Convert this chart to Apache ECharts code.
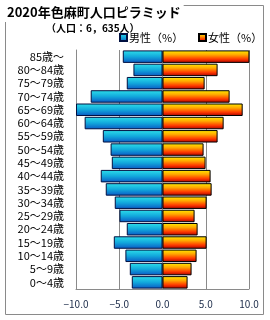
<!DOCTYPE html>
<html><head><meta charset="utf-8">
<script src="https://cdn.jsdelivr.net/npm/echarts@6/dist/echarts.min.js"></script>
<style>html,body{margin:0;padding:0;background:#fff}#c{width:270px;height:320px}</style>
</head><body><div id="c"></div>
<script>
const categories = ["0～4歳","5～9歳","10～14歳","15～19歳","20～24歳","25～29歳","30～34歳","35～39歳","40～44歳","45～49歳","50～54歳","55～59歳","60～64歳","65～69歳","70～74歳","75～79歳","80～84歳","85歳～"];
const maleValues = [3.55,3.78,4.29,5.63,4.13,4.98,5.52,6.56,7.14,5.86,6.0,6.9,9.0,10.0,8.3,4.13,3.36,4.59];
const femaleValues = [2.9,3.36,3.94,5.1,4.06,3.71,5.1,5.68,5.56,4.98,4.75,6.37,7.07,9.27,7.76,4.87,6.37,10.05];
const titleText = "2020年色麻町人口ピラミッド";
const subtitleText = "（人口：6，635人）";
const seriesNames = ["男性（%）","女性（%）"];

const FONT = '"Noto Sans CJK JP", sans-serif';
const maleGrad = new echarts.graphic.LinearGradient(0,0,0,1,[
  {offset:0,color:'#2ee0ea'},{offset:0.5,color:'#12a8dc'},{offset:1,color:'#0a58c4'}]);
const femaleGrad = new echarts.graphic.LinearGradient(0,0,0,1,[
  {offset:0,color:'#ffee00'},{offset:0.35,color:'#ffa800'},{offset:0.7,color:'#ff3a00'},{offset:1,color:'#a80000'}]);

const chart = echarts.init(document.getElementById('c'), null, {renderer:'canvas'});
chart.setOption({
  animation:false,
  backgroundColor:'#fff',
  graphic:[{type:'rect',z:0,shape:{x:5.5,y:5.5,width:258,height:309},style:{fill:'none',stroke:'#8a8a8a',lineWidth:1}}],
  title:[
    {text:titleText,left:4,top:3,padding:[3,3,3,3],backgroundColor:'#fff',z:10,
     textStyle:{fontFamily:FONT,fontSize:13,fontWeight:'bold',color:'#000'}},
    {text:subtitleText,left:46,top:23,padding:0,z:10,
     textStyle:{fontFamily:FONT,fontSize:10,fontWeight:'bold',color:'#000'}}
  ],
  legend:[
    {data:[seriesNames[0]],icon:'rect',left:119,top:32,itemWidth:7,itemHeight:7,itemGap:0,padding:0,
     textStyle:{fontFamily:FONT,fontSize:11,color:'#000',padding:[0,0,0,-3]}},
    {data:[seriesNames[1]],icon:'rect',left:198,top:32,itemWidth:7,itemHeight:7,itemGap:0,padding:0,
     textStyle:{fontFamily:FONT,fontSize:11,color:'#000',padding:[0,0,0,-3]}}
  ],
  grid:{left:76,right:21,top:50,bottom:31,containLabel:false},
  xAxis:{type:'value',min:-10,max:10,interval:5,
    axisLine:{show:true,onZero:false,lineStyle:{color:'#8a8a8a'}},
    axisTick:{show:false},
    splitLine:{show:true,lineStyle:{color:'#8a8a8a',width:1}},
    axisLabel:{margin:10,fontFamily:FONT,fontSize:10,color:'#1a2a48',formatter:v=>(v<0?'−':'')+Math.abs(v).toFixed(1)}},
  yAxis:{type:'category',data:categories,
    axisLine:{show:true,onZero:false,lineStyle:{color:'#8a8a8a'}},
    axisTick:{show:false},
    axisLabel:{interval:0,margin:12,fontFamily:FONT,fontSize:11,color:'#000'}},
  series:[
    {name:seriesNames[0],type:'bar',stack:'p',barCategoryGap:'6%',
     data:maleValues.map(v=>-v),
     itemStyle:{color:maleGrad,borderColor:'#001040',borderWidth:1}},
    {name:seriesNames[1],type:'bar',stack:'p',barCategoryGap:'6%',
     data:femaleValues,
     itemStyle:{color:femaleGrad,borderColor:'#000',borderWidth:1}}
  ]
});
</script></body></html>
